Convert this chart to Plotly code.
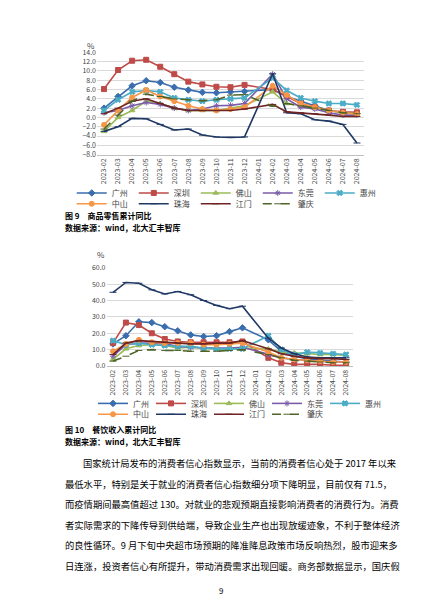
import plotly.graph_objects as go

months = ['2023-02', '2023-03', '2023-04', '2023-05', '2023-06', '2023-07', '2023-08',
          '2023-09', '2023-10', '2023-11', '2023-12', '2024-01', '2024-02', '2024-03',
          '2024-04', '2024-05', '2024-06', '2024-07', '2024-08']
cities = ['广州', '深圳', '佛山', '东莞', '惠州', '中山', '珠海', '江门', '肇庆']
colors = ['#3A6DAE', '#BE4B48', '#9BBB59', '#7A5CA8', '#4BACC6',
          '#F79646', '#1F3864', '#6E2424', '#4F6228']
symbols = ['diamond', 'square', 'triangle-up', 'asterisk', 'x',
           'circle', 'line-ew', 'line-ew', 'line-ew']

# 商品零售累计同比 (%)
retail = {
    '广州': [2.0, 4.5, 6.8, 7.9, 7.5, 6.5, 5.9, 5.4, 5.3, 5.5, 5.6, None, 6.0, 4.5, 3.5, 2.5, 1.5, 1.0, 0.8],
    '深圳': [6.1, 10.2, 12.2, 12.4, 10.9, 9.3, 7.7, 7.1, 6.6, 6.5, 7.0, None, 6.0, 4.5, 3.0, 2.2, 1.5, 1.2, 1.1],
    '佛山': [-3.0, 0.0, 1.5, 3.5, 3.0, 2.0, 1.5, 1.5, 1.5, 2.0, 2.5, None, 5.5, 3.0, 2.5, 2.0, 1.5, 1.0, 0.8],
    '东莞': [1.0, 1.5, 2.5, 3.2, 2.8, 2.0, 1.5, 1.8, 2.5, 2.6, 3.0, None, 9.3, 4.0, 2.2, 1.8, 1.0, 0.5, 0.5],
    '惠州': [1.5, 3.8, 5.5, 5.8, 5.5, 4.2, 3.8, 3.5, 3.8, 4.0, 4.2, None, 8.5, 5.8, 4.2, 3.5, 3.0, 3.0, 2.7],
    '中山': [-1.6, 1.5, 4.3, 5.9, 4.5, 3.5, 2.5, 1.8, 1.5, 1.8, 2.2, None, 6.8, 4.8, 3.0, 2.2, 1.5, 1.0, 0.7],
    '珠海': [-3.0, -2.0, -0.2, -0.3, -1.5, -2.7, -2.5, -3.8, -4.2, -4.3, -4.2, None, 9.4, 1.0, 0.8, -0.5, -0.8, -1.5, -5.5],
    '江门': [0.8, 2.0, 3.5, 4.0, 3.0, 2.0, 1.5, 1.5, 1.5, 1.5, 1.8, None, 2.8, 1.2, 1.0, 0.8, 0.5, 0.2, 0.2],
    '肇庆': [-2.5, 0.5, 3.5, 5.0, 4.5, 4.0, 3.8, 3.6, 3.8, 4.8, 4.9, None, 2.4, 3.0, 2.5, 2.0, 1.5, 1.0, 0.8],
}
# 餐饮收入累计同比 (%)
catering = {
    '广州': [13.5, 18.5, 27.0, 26.5, 24.0, 21.5, 19.0, 18.0, 18.5, 21.0, 23.3, None, 16.0, 9.0, 6.0, 4.5, 3.5, 3.0, 2.5],
    '深圳': [14.0, 26.5, 25.0, 20.0, 16.5, 15.0, 14.5, 14.5, 14.5, 14.5, 15.0, None, 5.0, 2.0, 1.0, 1.0, 1.0, 0.5, 0.5],
    '佛山': [4.0, 10.5, 12.5, 13.0, 12.5, 11.0, 11.5, 11.0, 10.5, 10.5, 11.0, None, 10.5, 8.5, 8.0, 7.5, 7.0, 7.0, 6.5],
    '东莞': [6.0, 13.0, 14.0, 14.0, 13.5, 12.0, 11.5, 11.0, 11.0, 11.0, 11.5, None, 7.0, 5.0, 4.0, 3.5, 3.0, 2.5, 2.5],
    '惠州': [15.5, 13.0, 14.0, 13.0, 12.5, 12.0, 12.0, 11.0, 10.5, 10.5, 10.5, None, 18.5, 10.0, 7.0, 8.5, 8.0, 7.5, 7.0],
    '中山': [9.0, 13.5, 16.0, 14.5, 14.0, 14.0, 14.0, 13.0, 13.0, 13.5, 14.0, None, 8.5, 5.0, 4.0, 3.5, 3.0, 2.5, 2.5],
    '珠海': [45.0, 51.0, 50.5, 46.5, 44.0, 45.5, 43.5, 40.0, 37.0, 35.0, 36.5, None, 17.0, 11.0, 7.5, 5.5, 5.0, 5.0, 5.0],
    '江门': [7.0, 14.0, 15.5, 15.0, 14.5, 14.0, 13.5, 13.5, 14.0, 14.0, 15.5, None, 10.5, 7.5, 6.0, 5.0, 4.5, 4.5, 4.0],
    '肇庆': [3.0, 6.0, 9.5, 10.0, 9.5, 9.5, 9.0, 9.0, 9.0, 9.5, 10.0, None, 7.0, 5.0, 3.5, 3.0, 2.5, 2.0, 2.0],
}

body = [
    '国家统计局发布的消费者信心指数显示，当前的消费者信心处于 2017 年以来',
    '最低水平，特别是关于就业的消费者信心指数细分项下降明显，目前仅有 71.5，',
    '而疫情期间最高值超过 130。对就业的悲观预期直接影响消费者的消费行为。消费',
    '者实际需求的下降传导到供给端，导致企业生产也出现放缓迹象，不利于整体经济',
    '的良性循环。9 月下旬中央超市场预期的降准降息政策市场反响热烈，股市迎来多',
    '日连涨，投资者信心有所提升，带动消费需求出现回暖。商务部数据显示，国庆假',
]

FONT = 'Noto Sans CJK SC'
fig = go.Figure()


def page_y(p):
    return 1 - p / 600


# each chart's legend is split into two rows: legend ids (row1, row2)
charts = [(retail, 'x', 'y', ('legend', 'legend3')),
          (catering, 'x2', 'y2', ('legend2', 'legend4'))]
for data, xa, ya, lgs in charts:
    for i, (c, col, sym) in enumerate(zip(cities, colors, symbols)):
        fig.add_trace(go.Scatter(
            x=months, y=data[c], name=c, xaxis=xa, yaxis=ya, legend=lgs[0 if i < 5 else 1],
            mode='lines+markers', connectgaps=True,
            line=dict(color=col, width=1.6, dash='dash' if c == '肇庆' else 'solid'),
            marker=dict(symbol=sym, size=5, color=col, line=dict(color=col, width=1))))

axis_font = dict(family=FONT, size=7, color='#444')
common_x = dict(type='category', tickangle=-90, tickfont=axis_font, showgrid=False,
                showline=True, linecolor='#BFBFBF', ticks='', range=[-0.5, 18.5])
common_y = dict(tickfont=axis_font, showgrid=True, gridcolor='#D9D9D9', zeroline=False,
                showline=False, tickformat='.1f')
leg_common = dict(orientation='h', xanchor='left', yanchor='middle', entrywidth=17,
                  entrywidthmode='pixels', tracegroupgap=0, itemwidth=30,
                  font=dict(family=FONT, size=8, color='#444'), bgcolor='rgba(0,0,0,0)')

fig.update_layout(
    width=425, height=600, margin=dict(l=0, r=0, t=0, b=0),
    paper_bgcolor='white', plot_bgcolor='white',
    font=dict(family=FONT),
    showlegend=True,
    xaxis=dict(common_x, domain=[0.2094, 0.8376], anchor='y'),
    yaxis=dict(common_y, domain=[page_y(143), page_y(39)], range=[-8, 14],
               dtick=2, anchor='x'),
    xaxis2=dict(common_x, domain=[0.2318, 0.8106], anchor='y2'),
    yaxis2=dict(common_y, domain=[page_y(358), page_y(258)], range=[0, 60],
                dtick=10, anchor='x2'),
    legend=dict(leg_common, x=0.15, y=page_y(182)),
    legend3=dict(leg_common, x=0.15, y=page_y(193)),
    legend2=dict(leg_common, x=0.2, y=page_y(396), entrywidth=13),
    legend4=dict(leg_common, x=0.2, y=page_y(407), entrywidth=13),
)

for x, py in [(0.2094, 24), (0.2318, 245)]:
    fig.add_annotation(xref='paper', yref='paper', x=x, y=page_y(py), text='%',
                       showarrow=False, xanchor='right', font=dict(family=FONT, size=8, color='#444'))

captions = [(205, '<b>图 9　商品零售累计同比</b>'), (217, '<b>数据来源：wind，北大汇丰智库</b>'),
            (430, '<b>图 10　餐饮收入累计同比</b>'), (442, '<b>数据来源：wind，北大汇丰智库</b>')]
for py, t in captions:
    fig.add_annotation(xref='paper', yref='paper', x=55 / 425, y=page_y(py), text=t,
                       showarrow=False, xanchor='left', font=dict(family=FONT, size=8, color='black'))

for i, line in enumerate(body):
    fig.add_annotation(xref='paper', yref='paper', x=(73 if i == 0 else 55) / 425,
                       y=page_y(466 + i * 20.8), text=line, showarrow=False, xanchor='left',
                       font=dict(family=FONT, size=9.3, color='black'))

fig.add_annotation(xref='paper', yref='paper', x=0.5, y=page_y(594), text='9', showarrow=False,
                   font=dict(family=FONT, size=8, color='black'))

fig.write_html('out.html')
